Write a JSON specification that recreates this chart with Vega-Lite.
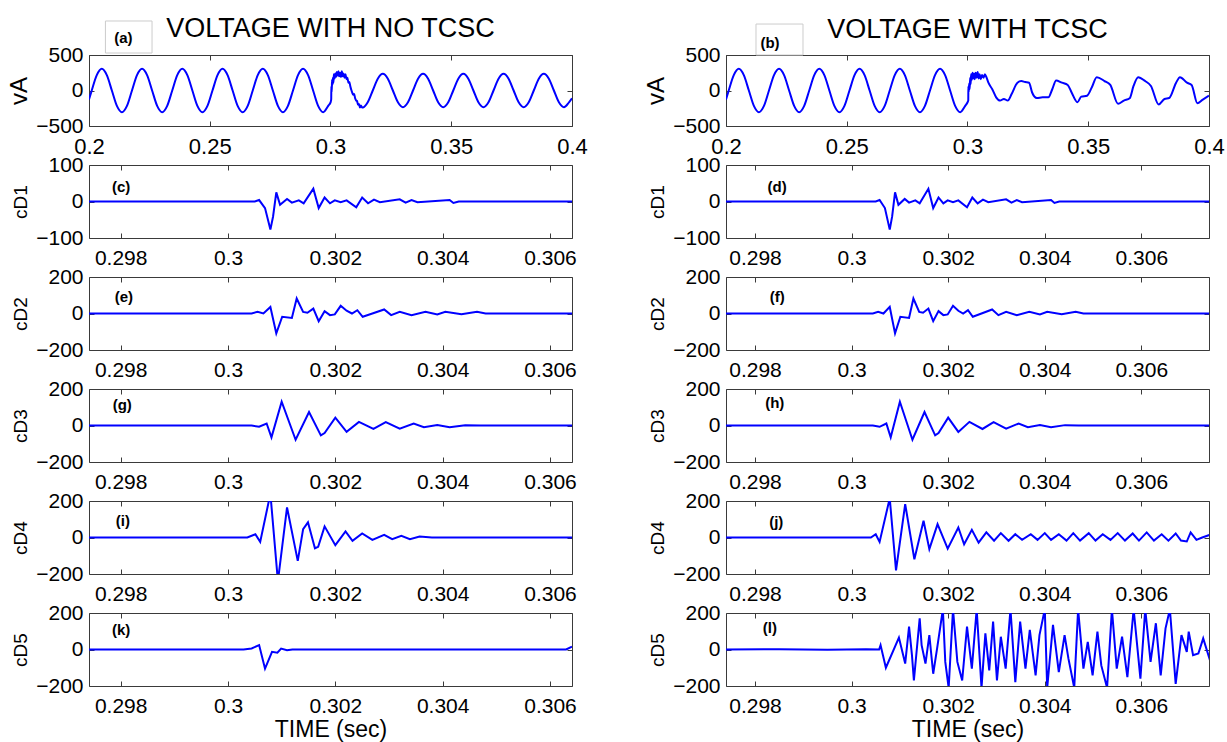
{
"$schema": "https://vega.github.io/schema/vega-lite/v6.json",
"padding": {"left": 7, "top": 14, "right": 0, "bottom": 0},
"background": "white",
"config": {
 "font": "Liberation Sans",
 "view": {"stroke": "#3a3a3a", "strokeWidth": 1},
 "axis": {"domain": false, "grid": false, "tickSize": -5, "tickColor": "#3a3a3a", "tickWidth": 1, "labelColor": "#000000", "labelFontSize": 21, "labelFlush": false, "labelOverlap": false, "labelBound": false, "titleColor": "#000000", "titleFontWeight": "normal"},
 "axisX": {"labelPadding": 14, "titleFontSize": 23, "titlePadding": 2},
 "axisY": {"labelPadding": 11, "titleFontSize": 19, "titlePadding": 5},
 "title": {"fontSize": 27, "fontWeight": "normal", "color": "#000000", "anchor": "middle", "frame": "group"},
 "line": {"color": "#0000ff", "strokeWidth": 2},
 "text": {"fontSize": 15, "fontWeight": "bold", "color": "#000000"}
},
"datasets": {
 "va": [{"t":0.2,"v":-127},{"t":0.20113,"v":0},{"t":0.20322,"v":216},{"t":0.2053,"v":305},{"t":0.20738,"v":216},{"t":0.20947,"v":0},{"t":0.21155,"v":-216},{"t":0.21363,"v":-305},{"t":0.21572,"v":-216},{"t":0.2178,"v":0},{"t":0.21988,"v":216},{"t":0.22197,"v":305},{"t":0.22405,"v":216},{"t":0.22613,"v":0},{"t":0.22822,"v":-216},{"t":0.2303,"v":-305},{"t":0.23238,"v":-216},{"t":0.23447,"v":0},{"t":0.23655,"v":216},{"t":0.23863,"v":305},{"t":0.24072,"v":216},{"t":0.2428,"v":0},{"t":0.24488,"v":-216},{"t":0.24697,"v":-305},{"t":0.24905,"v":-216},{"t":0.25113,"v":0},{"t":0.25322,"v":216},{"t":0.2553,"v":305},{"t":0.25738,"v":216},{"t":0.25947,"v":0},{"t":0.26155,"v":-216},{"t":0.26363,"v":-305},{"t":0.26572,"v":-216},{"t":0.2678,"v":0},{"t":0.26988,"v":216},{"t":0.27197,"v":305},{"t":0.27405,"v":216},{"t":0.27613,"v":0},{"t":0.27822,"v":-216},{"t":0.2803,"v":-305},{"t":0.28238,"v":-216},{"t":0.28447,"v":0},{"t":0.28655,"v":216},{"t":0.28863,"v":305},{"t":0.29072,"v":216},{"t":0.2928,"v":0},{"t":0.29488,"v":-216},{"t":0.29697,"v":-305},{"t":0.29905,"v":-216},{"t":0.3001,"v":-160},
  {"t":0.3003,"v":-120},{"t":0.30035,"v":60},{"t":0.3005,"v":-20},{"t":0.30065,"v":150},{"t":0.3008,"v":80},{"t":0.301,"v":180},{"t":0.3012,"v":110},{"t":0.3014,"v":230},{"t":0.3017,"v":170},{"t":0.302,"v":240},{"t":0.3023,"v":190},{"t":0.3026,"v":260},{"t":0.3029,"v":210},{"t":0.3033,"v":270},{"t":0.3036,"v":200},{"t":0.304,"v":250},{"t":0.3043,"v":190},{"t":0.3047,"v":270},{"t":0.305,"v":200},{"t":0.3054,"v":240},{"t":0.3058,"v":180},{"t":0.3062,"v":230},{"t":0.3066,"v":160},{"t":0.307,"v":180},{"t":0.3074,"v":110},{"t":0.3078,"v":120},{"t":0.3082,"v":60},{"t":0.3086,"v":10},{"t":0.309,"v":-30},{"t":0.3094,"v":-60},{"t":0.3098,"v":-50},{"t":0.3102,"v":-110},{"t":0.3106,"v":-140},{"t":0.311,"v":-150},{"t":0.3114,"v":-200},{"t":0.3118,"v":-190},{"t":0.3122,"v":-240},{"t":0.3126,"v":-210},{"t":0.313,"v":-235},{"t":0.31333,"v":-240},
  {"t":0.31542,"v":-166},{"t":0.3175,"v":0},{"t":0.31958,"v":166},{"t":0.32167,"v":235},{"t":0.32375,"v":166},{"t":0.32583,"v":0},{"t":0.32792,"v":-166},{"t":0.33,"v":-235},{"t":0.33208,"v":-166},{"t":0.33417,"v":0},{"t":0.33625,"v":166},{"t":0.33833,"v":235},{"t":0.34042,"v":166},{"t":0.3425,"v":0},{"t":0.34458,"v":-166},{"t":0.34667,"v":-235},{"t":0.34875,"v":-166},{"t":0.35083,"v":0},{"t":0.35292,"v":166},{"t":0.355,"v":235},{"t":0.35708,"v":166},{"t":0.35917,"v":0},{"t":0.36125,"v":-166},{"t":0.36333,"v":-235},{"t":0.36542,"v":-166},{"t":0.3675,"v":0},{"t":0.36958,"v":166},{"t":0.37167,"v":235},{"t":0.37375,"v":166},{"t":0.37583,"v":0},{"t":0.37792,"v":-166},{"t":0.38,"v":-235},{"t":0.38208,"v":-166},{"t":0.38417,"v":0},{"t":0.38625,"v":166},{"t":0.38833,"v":235},{"t":0.39042,"v":166},{"t":0.3925,"v":0},{"t":0.39458,"v":-166},{"t":0.39667,"v":-235},{"t":0.39875,"v":-166},{"t":0.4,"v":-110}],
 "vb": [{"t":0.2,"v":-127},{"t":0.20113,"v":0},{"t":0.20322,"v":216},{"t":0.2053,"v":305},{"t":0.20738,"v":216},{"t":0.20947,"v":0},{"t":0.21155,"v":-216},{"t":0.21363,"v":-305},{"t":0.21572,"v":-216},{"t":0.2178,"v":0},{"t":0.21988,"v":216},{"t":0.22197,"v":305},{"t":0.22405,"v":216},{"t":0.22613,"v":0},{"t":0.22822,"v":-216},{"t":0.2303,"v":-305},{"t":0.23238,"v":-216},{"t":0.23447,"v":0},{"t":0.23655,"v":216},{"t":0.23863,"v":305},{"t":0.24072,"v":216},{"t":0.2428,"v":0},{"t":0.24488,"v":-216},{"t":0.24697,"v":-305},{"t":0.24905,"v":-216},{"t":0.25113,"v":0},{"t":0.25322,"v":216},{"t":0.2553,"v":305},{"t":0.25738,"v":216},{"t":0.25947,"v":0},{"t":0.26155,"v":-216},{"t":0.26363,"v":-305},{"t":0.26572,"v":-216},{"t":0.2678,"v":0},{"t":0.26988,"v":216},{"t":0.27197,"v":305},{"t":0.27405,"v":216},{"t":0.27613,"v":0},{"t":0.27822,"v":-216},{"t":0.2803,"v":-305},{"t":0.28238,"v":-216},{"t":0.28447,"v":0},{"t":0.28655,"v":216},{"t":0.28863,"v":305},{"t":0.29072,"v":216},{"t":0.2928,"v":0},{"t":0.29488,"v":-216},{"t":0.29697,"v":-305},{"t":0.29905,"v":-216},{"t":0.3001,"v":-160},
  {"t":0.30032,"v":-140},{"t":0.30036,"v":60},{"t":0.3005,"v":-20},{"t":0.3007,"v":100},{"t":0.3009,"v":20},{"t":0.3011,"v":180},{"t":0.3013,"v":90},{"t":0.3015,"v":230},{"t":0.3018,"v":150},{"t":0.3021,"v":250},{"t":0.3024,"v":170},{"t":0.3027,"v":240},{"t":0.303,"v":160},{"t":0.3034,"v":250},{"t":0.3038,"v":180},{"t":0.3042,"v":260},{"t":0.3046,"v":170},{"t":0.305,"v":230},{"t":0.3055,"v":160},{"t":0.306,"v":220},{"t":0.3066,"v":180},{"t":0.3072,"v":230},{"t":0.3078,"v":190},{"t":0.30866,"v":110},{"t":0.31026,"v":18},{"t":0.31186,"v":-96},{"t":0.31347,"v":-142},{"t":0.31507,"v":-119},{"t":0.31667,"v":-142},{"t":0.31827,"v":-50},{"t":0.32067,"v":110},{"t":0.32228,"v":133},{"t":0.32388,"v":119},{"t":0.32548,"v":110},{"t":0.32676,"v":-28},{"t":0.32869,"v":-106},{"t":0.33109,"v":-96},{"t":0.33349,"v":-96},{"t":0.3351,"v":18},{"t":0.3367,"v":142},{"t":0.3391,"v":110},{"t":0.3415,"v":78},{"t":0.34311,"v":-28},{"t":0.34551,"v":-165},{"t":0.34712,"v":-87},{"t":0.34952,"v":-73},{"t":0.35144,"v":41},{"t":0.35352,"v":188},{"t":0.35673,"v":133},{"t":0.35913,"v":78},{"t":0.36234,"v":-188},{"t":0.36474,"v":-142},{"t":0.36715,"v":-110},{"t":0.36875,"v":64},{"t":0.37067,"v":188},{"t":0.37356,"v":133},{"t":0.37596,"v":64},{"t":0.37917,"v":-197},{"t":0.38157,"v":-119},{"t":0.3835,"v":-106},{"t":0.38638,"v":110},{"t":0.38798,"v":188},{"t":0.39087,"v":110},{"t":0.39279,"v":78},{"t":0.39519,"v":-179},{"t":0.39728,"v":-133},{"t":0.4,"v":-73}],
 "cd1": [{"t":0.2974,"v":0},{"t":0.2985,"v":0},{"t":0.2995,"v":0},{"t":0.3005,"v":0},{"t":0.30058,"v":4},{"t":0.30069,"v":-18},{"t":0.30079,"v":-77},{"t":0.30084,"v":-41},{"t":0.3009,"v":25},{"t":0.30097,"v":-9},{"t":0.3011,"v":7},{"t":0.30119,"v":-3},{"t":0.30132,"v":3},{"t":0.30141,"v":-5},{"t":0.30159,"v":35},{"t":0.30169,"v":-18},{"t":0.3018,"v":11},{"t":0.3019,"v":-5},{"t":0.30199,"v":3},{"t":0.3021,"v":-2},{"t":0.30221,"v":3},{"t":0.30239,"v":-16},{"t":0.3025,"v":11},{"t":0.30261,"v":-5},{"t":0.30272,"v":5},{"t":0.30283,"v":-2},{"t":0.3032,"v":6},{"t":0.30331,"v":-3},{"t":0.30342,"v":4},{"t":0.30353,"v":-2},{"t":0.30413,"v":4},{"t":0.3042,"v":-4},{"t":0.3043,"v":0},{"t":0.3075,"v":0}],
 "cd2": [{"t":0.2974,"v":0},{"t":0.30044,"v":0},{"t":0.30055,"v":9},{"t":0.30066,"v":0},{"t":0.30079,"v":36},{"t":0.3009,"v":-109},{"t":0.30101,"v":-18},{"t":0.30119,"v":-24},{"t":0.30128,"v":82},{"t":0.3014,"v":9},{"t":0.30148,"v":4},{"t":0.30159,"v":27},{"t":0.30169,"v":-42},{"t":0.3018,"v":13},{"t":0.3019,"v":-9},{"t":0.30199,"v":-5},{"t":0.3021,"v":42},{"t":0.30221,"v":15},{"t":0.30231,"v":0},{"t":0.30241,"v":18},{"t":0.30251,"v":-18},{"t":0.30269,"v":0},{"t":0.30291,"v":22},{"t":0.30304,"v":-9},{"t":0.3032,"v":9},{"t":0.30342,"v":-9},{"t":0.30368,"v":9},{"t":0.3039,"v":-5},{"t":0.30405,"v":9},{"t":0.30435,"v":-4},{"t":0.30464,"v":9},{"t":0.3048,"v":0},{"t":0.3075,"v":0}],
 "cd3": [{"t":0.2974,"v":0},{"t":0.30044,"v":0},{"t":0.30058,"v":-7},{"t":0.30072,"v":11},{"t":0.30081,"v":-65},{"t":0.301,"v":130},{"t":0.30126,"v":-78},{"t":0.30151,"v":74},{"t":0.30173,"v":-54},{"t":0.3018,"v":-41},{"t":0.302,"v":43},{"t":0.30221,"v":-35},{"t":0.30244,"v":20},{"t":0.30271,"v":-19},{"t":0.30294,"v":19},{"t":0.3032,"v":-17},{"t":0.30346,"v":11},{"t":0.30365,"v":-9},{"t":0.3039,"v":2},{"t":0.30413,"v":-9},{"t":0.30442,"v":2},{"t":0.3047,"v":0},{"t":0.3075,"v":0}],
 "cd4l": [{"t":0.2974,"v":0},{"t":0.30036,"v":0},{"t":0.30051,"v":18},{"t":0.3006,"v":-24},{"t":0.30079,"v":240},{"t":0.30093,"v":-240},{"t":0.3011,"v":165},{"t":0.3013,"v":-128},{"t":0.3014,"v":46},{"t":0.30149,"v":83},{"t":0.30162,"v":-59},{"t":0.30168,"v":-51},{"t":0.3018,"v":61},{"t":0.302,"v":-42},{"t":0.30219,"v":33},{"t":0.30232,"v":-18},{"t":0.3025,"v":22},{"t":0.30269,"v":-13},{"t":0.30291,"v":15},{"t":0.30306,"v":-9},{"t":0.30323,"v":9},{"t":0.30339,"v":-9},{"t":0.30357,"v":5},{"t":0.3038,"v":0},{"t":0.3066,"v":0}],
 "cd4r": [{"t":0.2974,"v":0},{"t":0.3004,"v":0},{"t":0.3005,"v":18},{"t":0.30058,"v":-24},{"t":0.30079,"v":215},{"t":0.30092,"v":-180},{"t":0.30111,"v":183},{"t":0.3013,"v":-119},{"t":0.30149,"v":92},{"t":0.30161,"v":-64},{"t":0.30178,"v":73},{"t":0.30199,"v":-61},{"t":0.30221,"v":55},{"t":0.30233,"v":-37},{"t":0.30249,"v":42},{"t":0.30263,"v":-28},{"t":0.30279,"v":28},{"t":0.30295,"v":-18},{"t":0.30309,"v":24},{"t":0.30325,"v":-18},{"t":0.30339,"v":18},{"t":0.30353,"v":-13},{"t":0.30371,"v":18},{"t":0.30385,"v":-13},{"t":0.304,"v":24},{"t":0.30413,"v":-13},{"t":0.30429,"v":18},{"t":0.30445,"v":-17},{"t":0.30459,"v":24},{"t":0.30473,"v":-17},{"t":0.30491,"v":24},{"t":0.30505,"v":-17},{"t":0.3052,"v":18},{"t":0.30536,"v":-13},{"t":0.30551,"v":24},{"t":0.30566,"v":-17},{"t":0.30582,"v":22},{"t":0.30595,"v":-17},{"t":0.30611,"v":28},{"t":0.30626,"v":-17},{"t":0.30642,"v":18},{"t":0.30656,"v":-17},{"t":0.30671,"v":22},{"t":0.30682,"v":-17},{"t":0.30694,"v":-22},{"t":0.30702,"v":28},{"t":0.30714,"v":-13},{"t":0.30726,"v":0},{"t":0.30742,"v":15}],
 "cd5l": [{"t":0.2974,"v":0},{"t":0.30029,"v":0},{"t":0.30044,"v":6},{"t":0.30058,"v":24},{"t":0.30069,"v":-105},{"t":0.30082,"v":-13},{"t":0.30092,"v":-18},{"t":0.30099,"v":5},{"t":0.3011,"v":-4},{"t":0.3012,"v":0},{"t":0.3063,"v":0},{"t":0.30641,"v":15}],
 "cd5r": [{"t":0.2974,"v":0},{"t":0.2985,"v":2},{"t":0.2995,"v":-2},{"t":0.3003,"v":2},{"t":0.30057,"v":0},{"t":0.3006,"v":24},{"t":0.30071,"v":-100},{"t":0.30098,"v":65},{"t":0.30111,"v":-77},{"t":0.30119,"v":125},{"t":0.30125,"v":-31},{"t":0.30129,"v":-170},{"t":0.30141,"v":171},{"t":0.30145,"v":24},{"t":0.30153,"v":-77},{"t":0.30161,"v":79},{"t":0.30169,"v":-133},{"t":0.30177,"v":5},{"t":0.30189,"v":220},{"t":0.30194,"v":-68},{"t":0.30201,"v":-210},{"t":0.3021,"v":220},{"t":0.30219,"v":-68},{"t":0.30229,"v":-170},{"t":0.30239,"v":125},{"t":0.30249,"v":-105},{"t":0.30259,"v":220},{"t":0.30269,"v":-210},{"t":0.30277,"v":88},{"t":0.30285,"v":-114},{"t":0.30293,"v":153},{"t":0.30301,"v":-170},{"t":0.30309,"v":70},{"t":0.30319,"v":-105},{"t":0.30329,"v":220},{"t":0.30339,"v":-179},{"t":0.30349,"v":153},{"t":0.3036,"v":-105},{"t":0.30369,"v":107},{"t":0.30381,"v":-142},{"t":0.30389,"v":79},{"t":0.304,"v":220},{"t":0.30405,"v":-210},{"t":0.30417,"v":135},{"t":0.30429,"v":-124},{"t":0.30441,"v":79},{"t":0.30449,"v":-50},{"t":0.30461,"v":-210},{"t":0.30469,"v":220},{"t":0.3048,"v":-105},{"t":0.30489,"v":42},{"t":0.30499,"v":-142},{"t":0.30509,"v":98},{"t":0.30517,"v":-87},{"t":0.30529,"v":-210},{"t":0.30539,"v":220},{"t":0.30549,"v":-105},{"t":0.3056,"v":70},{"t":0.30571,"v":-151},{"t":0.30584,"v":220},{"t":0.30598,"v":-160},{"t":0.30608,"v":220},{"t":0.30619,"v":-68},{"t":0.3063,"v":144},{"t":0.3064,"v":-142},{"t":0.3065,"v":116},{"t":0.30659,"v":220},{"t":0.30671,"v":-188},{"t":0.30683,"v":79},{"t":0.30694,"v":-13},{"t":0.30698,"v":98},{"t":0.30707,"v":-31},{"t":0.30718,"v":-22},{"t":0.30728,"v":61},{"t":0.30742,"v":-59}]
},
"columns": 2,
"spacing": {"row": 39, "column": 154},
"bounds": "flush",
"concat": [
 {"width": 483, "height": 71, "title": {"text": "VOLTAGE WITH NO TCSC", "offset": -23},
  "layer": [
   {"data": {"name": "va"}, "mark": {"type": "line", "interpolate": "monotone", "clip": true},
    "encoding": {"x": {"field": "t", "type": "quantitative", "scale": {"domain": [0.2, 0.4], "nice": false, "zero": false}, "axis": {"values": [0.2, 0.25, 0.3, 0.35, 0.4], "format": ".2~f", "labelFontSize": 22, "labelPadding": 15, "title": null}},
     "y": {"field": "v", "type": "quantitative", "scale": {"domain": [-500, 500], "nice": false}, "axis": {"values": [-500, 0, 500], "title": "vA", "titleFontSize": 24, "titlePadding": 4}}}},
   {"data": {"values": [{}]}, "mark": {"type": "rect", "filled": false, "stroke": "#cccccc", "strokeWidth": 1},
    "encoding": {"x": {"datum": 0.2068, "type": "quantitative", "axis": null}, "x2": {"datum": 0.2261}, "y": {"datum": 979, "type": "quantitative", "axis": null}, "y2": {"datum": 528}}},
   {"data": {"values": [{}]}, "mark": {"type": "text", "text": "(a)"},
    "encoding": {"x": {"datum": 0.21425, "type": "quantitative", "axis": {"orient": "top", "labels": false, "title": null, "values": [0.2, 0.25, 0.3, 0.35, 0.4]}}, "y": {"datum": 735, "type": "quantitative", "axis": {"orient": "right", "labels": false, "title": null, "values": [-500, 0, 500]}}}}
  ],
  "resolve": {"axis": {"x": "independent", "y": "independent"}}},
 {"width": 483, "height": 71, "title": {"text": "VOLTAGE WITH TCSC", "offset": -20},
  "layer": [
   {"data": {"name": "vb"}, "mark": {"type": "line", "interpolate": "monotone", "clip": true},
    "encoding": {"x": {"field": "t", "type": "quantitative", "scale": {"domain": [0.2, 0.4], "nice": false, "zero": false}, "axis": {"values": [0.2, 0.25, 0.3, 0.35, 0.4], "format": ".2~f", "labelFontSize": 22, "labelPadding": 15, "title": null}},
     "y": {"field": "v", "type": "quantitative", "scale": {"domain": [-500, 500], "nice": false}, "axis": {"values": [-500, 0, 500], "title": "vA", "titleFontSize": 24, "titlePadding": 4}}}},
   {"data": {"values": [{}]}, "mark": {"type": "rect", "filled": false, "stroke": "#cccccc", "strokeWidth": 1},
    "encoding": {"x": {"datum": 0.21242, "type": "quantitative", "axis": null}, "x2": {"datum": 0.23188}, "y": {"datum": 936, "type": "quantitative", "axis": null}, "y2": {"datum": 500}}},
   {"data": {"values": [{}]}, "mark": {"type": "text", "text": "(b)"},
    "encoding": {"x": {"datum": 0.21822, "type": "quantitative", "axis": {"orient": "top", "labels": false, "title": null, "values": [0.2, 0.25, 0.3, 0.35, 0.4]}}, "y": {"datum": 673, "type": "quantitative", "axis": {"orient": "right", "labels": false, "title": null, "values": [-500, 0, 500]}}}}
  ],
  "resolve": {"axis": {"x": "independent", "y": "independent"}}},
 {"width": 483, "height": 73,
  "layer": [
   {"data": {"name": "cd1"}, "mark": {"type": "line", "clip": true},
    "encoding": {"x": {"field": "t", "type": "quantitative", "scale": {"domain": [0.29741, 0.30641], "nice": false, "zero": false}, "axis": {"values": [0.298, 0.3, 0.302, 0.304, 0.306], "format": ".3~f", "title": null}},
     "y": {"field": "v", "type": "quantitative", "scale": {"domain": [-100, 100], "nice": false}, "axis": {"values": [-100, 0, 100], "title": "cD1"}}}},
   {"data": {"values": [{}]}, "mark": {"type": "text", "text": "(c)"},
    "encoding": {"x": {"datum": 0.29801, "type": "quantitative", "axis": {"orient": "top", "labels": false, "title": null, "values": [0.298, 0.3, 0.302, 0.304, 0.306]}}, "y": {"datum": 40, "type": "quantitative", "axis": {"orient": "right", "labels": false, "title": null, "values": [-100, 0, 100]}}}}
  ],
  "resolve": {"axis": {"x": "independent", "y": "independent"}}},
 {"width": 483, "height": 73,
  "layer": [
   {"data": {"name": "cd1"}, "mark": {"type": "line", "clip": true},
    "encoding": {"x": {"field": "t", "type": "quantitative", "scale": {"domain": [0.2974, 0.3074], "nice": false, "zero": false}, "axis": {"values": [0.298, 0.3, 0.302, 0.304, 0.306], "format": ".3~f", "title": null}},
     "y": {"field": "v", "type": "quantitative", "scale": {"domain": [-100, 100], "nice": false}, "axis": {"values": [-100, 0, 100], "title": "cD1"}}}},
   {"data": {"values": [{}]}, "mark": {"type": "text", "text": "(d)"},
    "encoding": {"x": {"datum": 0.29846, "type": "quantitative", "axis": {"orient": "top", "labels": false, "title": null, "values": [0.298, 0.3, 0.302, 0.304, 0.306]}}, "y": {"datum": 40, "type": "quantitative", "axis": {"orient": "right", "labels": false, "title": null, "values": [-100, 0, 100]}}}}
  ],
  "resolve": {"axis": {"x": "independent", "y": "independent"}}},
 {"width": 483, "height": 73,
  "layer": [
   {"data": {"name": "cd2"}, "mark": {"type": "line", "clip": true},
    "encoding": {"x": {"field": "t", "type": "quantitative", "scale": {"domain": [0.29741, 0.30641], "nice": false, "zero": false}, "axis": {"values": [0.298, 0.3, 0.302, 0.304, 0.306], "format": ".3~f", "title": null}},
     "y": {"field": "v", "type": "quantitative", "scale": {"domain": [-200, 200], "nice": false}, "axis": {"values": [-200, 0, 200], "title": "cD2"}}}},
   {"data": {"values": [{}]}, "mark": {"type": "text", "text": "(e)"},
    "encoding": {"x": {"datum": 0.29806, "type": "quantitative", "axis": {"orient": "top", "labels": false, "title": null, "values": [0.298, 0.3, 0.302, 0.304, 0.306]}}, "y": {"datum": 90, "type": "quantitative", "axis": {"orient": "right", "labels": false, "title": null, "values": [-200, 0, 200]}}}}
  ],
  "resolve": {"axis": {"x": "independent", "y": "independent"}}},
 {"width": 483, "height": 73,
  "layer": [
   {"data": {"name": "cd2"}, "mark": {"type": "line", "clip": true},
    "encoding": {"x": {"field": "t", "type": "quantitative", "scale": {"domain": [0.2974, 0.3074], "nice": false, "zero": false}, "axis": {"values": [0.298, 0.3, 0.302, 0.304, 0.306], "format": ".3~f", "title": null}},
     "y": {"field": "v", "type": "quantitative", "scale": {"domain": [-200, 200], "nice": false}, "axis": {"values": [-200, 0, 200], "title": "cD2"}}}},
   {"data": {"values": [{}]}, "mark": {"type": "text", "text": "(f)"},
    "encoding": {"x": {"datum": 0.29846, "type": "quantitative", "axis": {"orient": "top", "labels": false, "title": null, "values": [0.298, 0.3, 0.302, 0.304, 0.306]}}, "y": {"datum": 90, "type": "quantitative", "axis": {"orient": "right", "labels": false, "title": null, "values": [-200, 0, 200]}}}}
  ],
  "resolve": {"axis": {"x": "independent", "y": "independent"}}},
 {"width": 483, "height": 73,
  "layer": [
   {"data": {"name": "cd3"}, "mark": {"type": "line", "clip": true},
    "encoding": {"x": {"field": "t", "type": "quantitative", "scale": {"domain": [0.29741, 0.30641], "nice": false, "zero": false}, "axis": {"values": [0.298, 0.3, 0.302, 0.304, 0.306], "format": ".3~f", "title": null}},
     "y": {"field": "v", "type": "quantitative", "scale": {"domain": [-200, 200], "nice": false}, "axis": {"values": [-200, 0, 200], "title": "cD3"}}}},
   {"data": {"values": [{}]}, "mark": {"type": "text", "text": "(g)"},
    "encoding": {"x": {"datum": 0.29803, "type": "quantitative", "axis": {"orient": "top", "labels": false, "title": null, "values": [0.298, 0.3, 0.302, 0.304, 0.306]}}, "y": {"datum": 113, "type": "quantitative", "axis": {"orient": "right", "labels": false, "title": null, "values": [-200, 0, 200]}}}}
  ],
  "resolve": {"axis": {"x": "independent", "y": "independent"}}},
 {"width": 483, "height": 73,
  "layer": [
   {"data": {"name": "cd3"}, "mark": {"type": "line", "clip": true},
    "encoding": {"x": {"field": "t", "type": "quantitative", "scale": {"domain": [0.2974, 0.3074], "nice": false, "zero": false}, "axis": {"values": [0.298, 0.3, 0.302, 0.304, 0.306], "format": ".3~f", "title": null}},
     "y": {"field": "v", "type": "quantitative", "scale": {"domain": [-200, 200], "nice": false}, "axis": {"values": [-200, 0, 200], "title": "cD3"}}}},
   {"data": {"values": [{}]}, "mark": {"type": "text", "text": "(h)"},
    "encoding": {"x": {"datum": 0.29841, "type": "quantitative", "axis": {"orient": "top", "labels": false, "title": null, "values": [0.298, 0.3, 0.302, 0.304, 0.306]}}, "y": {"datum": 122, "type": "quantitative", "axis": {"orient": "right", "labels": false, "title": null, "values": [-200, 0, 200]}}}}
  ],
  "resolve": {"axis": {"x": "independent", "y": "independent"}}},
 {"width": 483, "height": 73,
  "layer": [
   {"data": {"name": "cd4l"}, "mark": {"type": "line", "clip": true},
    "encoding": {"x": {"field": "t", "type": "quantitative", "scale": {"domain": [0.29741, 0.30641], "nice": false, "zero": false}, "axis": {"values": [0.298, 0.3, 0.302, 0.304, 0.306], "format": ".3~f", "title": null}},
     "y": {"field": "v", "type": "quantitative", "scale": {"domain": [-200, 200], "nice": false}, "axis": {"values": [-200, 0, 200], "title": "cD4"}}}},
   {"data": {"values": [{}]}, "mark": {"type": "text", "text": "(i)"},
    "encoding": {"x": {"datum": 0.29804, "type": "quantitative", "axis": {"orient": "top", "labels": false, "title": null, "values": [0.298, 0.3, 0.302, 0.304, 0.306]}}, "y": {"datum": 90, "type": "quantitative", "axis": {"orient": "right", "labels": false, "title": null, "values": [-200, 0, 200]}}}}
  ],
  "resolve": {"axis": {"x": "independent", "y": "independent"}}},
 {"width": 483, "height": 73,
  "layer": [
   {"data": {"name": "cd4r"}, "mark": {"type": "line", "clip": true},
    "encoding": {"x": {"field": "t", "type": "quantitative", "scale": {"domain": [0.2974, 0.3074], "nice": false, "zero": false}, "axis": {"values": [0.298, 0.3, 0.302, 0.304, 0.306], "format": ".3~f", "title": null}},
     "y": {"field": "v", "type": "quantitative", "scale": {"domain": [-200, 200], "nice": false}, "axis": {"values": [-200, 0, 200], "title": "cD4"}}}},
   {"data": {"values": [{}]}, "mark": {"type": "text", "text": "(j)"},
    "encoding": {"x": {"datum": 0.29844, "type": "quantitative", "axis": {"orient": "top", "labels": false, "title": null, "values": [0.298, 0.3, 0.302, 0.304, 0.306]}}, "y": {"datum": 83, "type": "quantitative", "axis": {"orient": "right", "labels": false, "title": null, "values": [-200, 0, 200]}}}}
  ],
  "resolve": {"axis": {"x": "independent", "y": "independent"}}},
 {"width": 483, "height": 73,
  "layer": [
   {"data": {"name": "cd5l"}, "mark": {"type": "line", "clip": true},
    "encoding": {"x": {"field": "t", "type": "quantitative", "scale": {"domain": [0.29741, 0.30641], "nice": false, "zero": false}, "axis": {"values": [0.298, 0.3, 0.302, 0.304, 0.306], "format": ".3~f", "title": "TIME (sec)"}},
     "y": {"field": "v", "type": "quantitative", "scale": {"domain": [-200, 200], "nice": false}, "axis": {"values": [-200, 0, 200], "title": "cD5"}}}},
   {"data": {"values": [{}]}, "mark": {"type": "text", "text": "(k)"},
    "encoding": {"x": {"datum": 0.29801, "type": "quantitative", "axis": {"orient": "top", "labels": false, "title": null, "values": [0.298, 0.3, 0.302, 0.304, 0.306]}}, "y": {"datum": 107, "type": "quantitative", "axis": {"orient": "right", "labels": false, "title": null, "values": [-200, 0, 200]}}}}
  ],
  "resolve": {"axis": {"x": "independent", "y": "independent"}}},
 {"width": 483, "height": 73,
  "layer": [
   {"data": {"name": "cd5r"}, "mark": {"type": "line", "clip": true},
    "encoding": {"x": {"field": "t", "type": "quantitative", "scale": {"domain": [0.2974, 0.3074], "nice": false, "zero": false}, "axis": {"values": [0.298, 0.3, 0.302, 0.304, 0.306], "format": ".3~f", "title": "TIME (sec)"}},
     "y": {"field": "v", "type": "quantitative", "scale": {"domain": [-200, 200], "nice": false}, "axis": {"values": [-200, 0, 200], "title": "cD5"}}}},
   {"data": {"values": [{}]}, "mark": {"type": "text", "text": "(l)"},
    "encoding": {"x": {"datum": 0.29831, "type": "quantitative", "axis": {"orient": "top", "labels": false, "title": null, "values": [0.298, 0.3, 0.302, 0.304, 0.306]}}, "y": {"datum": 117, "type": "quantitative", "axis": {"orient": "right", "labels": false, "title": null, "values": [-200, 0, 200]}}}}
  ],
  "resolve": {"axis": {"x": "independent", "y": "independent"}}}
]
}
